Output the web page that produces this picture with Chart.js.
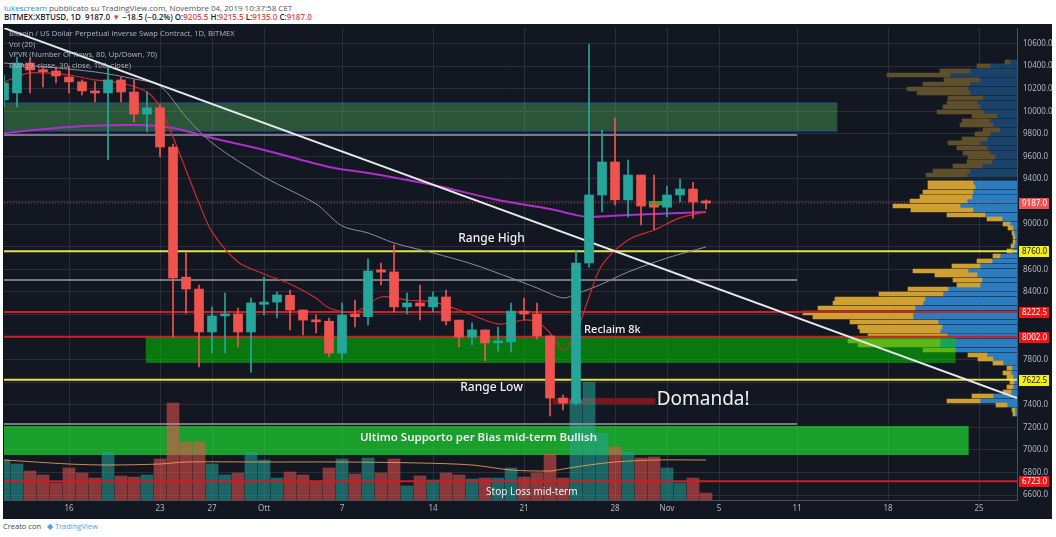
<!DOCTYPE html>
<html>
<head>
<meta charset="utf-8">
<title>BITMEX:XBTUSD 1D</title>
<script src="https://cdn.jsdelivr.net/npm/chart.js@4.4.1/dist/chart.umd.min.js"></script>
<style>
  html, body { margin: 0; padding: 0; background: #fff; }
  body { width: 1056px; height: 537px; position: relative; overflow: hidden; font-family: "Open Sans", "Noto Sans", sans-serif; }
  .hdr { position: absolute; left: 4px; font-size: 8px; color: #555; white-space: nowrap; }
  #h1 { top: 2px; }
  #h2 { top: 11px; font-weight: 600; color: #1e222d; }
  .user { color: #2a8ae0; font-weight: 400; }
  .dn { color: #e0484c; }
  #frame { position: absolute; left: 3px; top: 24px; width: 1049px; height: 495px; background: #131722; }
  #wrap { position: absolute; left: 0; top: 0; width: 1049px; height: 495px; }
  #legend { position: absolute; left: 6px; top: 4px; font-size: 7.6px; line-height: 10.7px; color: #b2b5be; white-space: nowrap; }
  #foot { position: absolute; left: 3px; top: 521px; font-size: 7.5px; color: #444; }
  #foot .tv { color: #4aa3df; margin-left: 4px; }
</style>
</head>
<body>
<div class="hdr" id="h1"><span class="user">lukescream</span> pubblicato su TradingView.com, Novembre 04, 2019 10:37:58 CET</div>
<div class="hdr" id="h2">BITMEX:XBTUSD, 1D&nbsp; 9187.0 <span class="dn">▼</span> −18.5 (−0.2%) O:<span class="dn">9205.5</span> H:<span class="dn">9215.5</span> L:<span class="dn">9135.0</span> C:<span class="dn">9187.0</span></div>
<div id="frame">
  <div id="wrap"><canvas id="chart"></canvas></div>
  <div id="legend">
    Bitcoin / US Dollar Perpetual Inverse Swap Contract, 1D, BITMEX<br>
    Vol (20)<br>
    VPVR (Number Of Rows, 80, Up/Down, 70)<br>
    EMA (9, close, 30, close, 100, close)
  </div>
</div>
<div id="foot">Creato con <span class="tv">◆ TradingView</span></div>

<script>
// daily candles, day 0 = 11 Sep 2019
var candleOpen = [10100,10162,10427,10365,10356,10303,10260,10180,10162,10277,10170,9975,10030,9683,8530,8425,8045,8187,8205,8045,8290,8310,8370,8240,8150,8140,7858,8205,8180,8595,8577,8267,8302,8267,8355,8150,8000,8063,7948,7957,8230,8205,8010,7460,7415,8656,9258,9550,9215,9435,9170,9150,9258,9311,9205.5];
var candleHigh = [10321,10480,10470,10385,10392,10400,10277,10260,10390,10300,10277,10171,10056,9710,8745,8460,8267,8390,8257,8346,8532,8400,8417,8240,8196,8169,8302,8328,8691,8656,8815,8390,8461,8400,8417,8151,8125,8063,8089,8302,8346,8302,8010,7487,8771,10590,9834,9940,9568,9435,9435,9338,9400,9370,9215.5];
var candleLow = [10038,10038,10162,10215,10250,10162,10145,10082,9570,10082,9905,9816,9595,8000,8210,7735,7860,7860,7911,7690,8196,8169,8063,8019,8036,7823,7806,8089,8107,8461,8222,8205,8152,8222,8107,7912,7930,7788,7876,7868,8151,7983,7301,7355,7398,8620,9108,9170,9063,8993,8948,9063,9196,9050,9135];
var candleClose = [10250,10427,10365,10350,10312,10260,10180,10162,10277,10170,9975,10030,9683,8523,8425,8045,8187,8205,8045,8302,8310,8373,8240,8150,8135,7858,8195,8180,8585,8575,8267,8302,8275,8355,8143,8000,8063,7948,7957,8230,8205,8010,7460,7415,8656,9258,9550,9215,9435,9160,9150,9258,9311,9196,9187];
var volumes = [40,36,29,25,17,32,27,22,48,24,23,25,41,97,58,58,36,25,27,48,40,22,28,25,19,32,41,26,42,27,41,14,24,20,27,25,21,22,22,32,23,27,46,22,100,118,67,53,48,42,43,32,17,22,7];

var volMaDays = [0,5,8,12,14,20,26,32,36,39,42,43,45,47,50,54];
var volMaValues = [40,36,35,36,38,38,38,37,35,30,29,31,35,38,40,40];

var ema9Days = [0,2,5,7,9,11,12,13,14,15,16,18,20,22,24,25,27,29,31,33,35,38,40,41,42,43,44,45,46,48,50,52,54];
var ema9Values = [10259,10339,10321,10277,10250,10171,10038,9772,9480,9187,8931,8665,8559,8470,8346,8257,8222,8355,8328,8311,8240,8116,8151,8133,8036,7885,8036,8355,8638,8860,8948,9055,9108];
var ema30Days = [0,7,10,12,14,16,20,24,26,28,30,33,36,39,41,43,44,46,48,51,54];
var ema30Values = [10427,10348,10286,10224,9949,9719,9418,9179,8984,8922,8833,8745,8647,8523,8435,8346,8381,8470,8576,8700,8798];
var ema100Days = [0,5,10,13,16,20,25,28,33,38,42,44,45,48,54];
var ema100Values = [9807,9861,9878,9852,9763,9657,9506,9453,9347,9214,9134,9081,9063,9081,9108];

var trendDays = [0, 77.92];
var trendPrices = [10737, 7460];

// visible range volume profile (rows)
var vpPrices = [10436,10401,10357,10321,10277,10241,10197,10162,10117,10073,10038,9993,9958,9914,9878,9834,9799,9754,9719,9675,9630,9595,9551,9515,9471,9435,
  9365,9329,9285,9241,9205,9161,9125,9081,9046,9001,8966,8922,8886,8842,8807,8762,8718,8674,8629,8585,8550,8505,8461,8426,8381,8337,8302,8257,8213,8178,8133,8089,8054,8010,7965,7930,7885,7841,7806,7770,7726,7682,7646,7602,7558,7513,7478,7434,7398,7354,7319];
var vpUp = [7,27,47,67,37,47,49,47,34,40,37,34,20,27,24,17,27,30,37,30,27,22,25,35,47,50,
  44,42,44,45,50,57,44,32,15,7,4,3,2,2,3,5,17,25,37,49,40,35,37,69,74,92,94,102,104,104,79,75,77,70,77,77,62,30,24,14,5,6,4,3,4,6,24,37,10,2,2];
var vpDown = [5,13,30,63,36,47,61,53,35,30,37,46,25,28,33,17,15,25,32,30,27,27,25,29,37,41,
  45,47,50,52,57,67,62,38,15,7,5,2,2,2,3,5,7,15,28,55,42,29,23,40,64,90,90,97,110,100,88,84,80,79,92,82,32,19,15,10,5,8,6,4,6,8,21,33,11,3,2];
var vpValueAreaHigh = 9390;

var xTickDays = [5,12,16,20,26,33,40,47,51,55,61,68,75];
var xTickLabels = ['16','23','27','Ott','7','14','21','28','Nov','5','11','18','25'];
var priceTicks = [6600,6800,7000,7200,7400,7600,7800,8000,8200,8400,8600,8800,9000,9200,9400,9600,9800,10000,10200,10400,10600];
var priceHiddenTicks = [9200,8800,8200,8000,7600];

// drawn zones: price low/high, day from/to
var zoneLow = [9825, 7770, 6955, 9165, 7407];
var zoneHigh = [10073, 8002, 7212, 9205, 7460];
var zoneFromDay = [0, 10.9, 0, 49.6, 42.2];
var zoneToDay = [64.1, 73.2, 74.2, 50.9, 50.1];
var zoneKinds = ['resist', 'support', 'last', 'box', 'demand'];

// horizontal levels
var levelPrices = [8760, 7622.5, 8222.5, 8002, 6723, 9790, 8505, 7230];
var levelKinds = ['range', 'range', 'red', 'red', 'red', 'grey', 'grey', 'grey'];
var levelToDay = [null, null, null, null, null, 61, 61, 61];

var tagPrices = [9187, 8760, 8222.5, 8002, 7622.5, 6723];
var tagKinds = ['lastPrice', 'range', 'red', 'red', 'range', 'red'];

var noteTexts = ['Range High', 'Reclaim 8k', 'Range Low', 'Domanda!', 'Ultimo Supporto per Bias mid-term Bullish', 'Stop Loss mid-term'];
var noteDays = [37.5, 46.8, 37.5, 50.2, 36.5, 40.6];
var notePrices = [8869, 8063, 7549, 7443, 7106, 6628];

// styles
var UP = '#26a69a', DOWN = '#ef5350';
var FONT = '"Noto Sans", "Open Sans", sans-serif';
var zoneFill = {
  resist: 'rgba(80,180,90,0.40)',
  support: 'rgba(0,200,0,0.55)',
  last: 'rgba(30,230,50,0.65)',
  box: 'rgba(40,190,40,0.85)',
  demand: '#7a161c'
};
var levelStyle = {
  range: { color: '#e4e14a', width: 2 },
  red: { color: '#cc1f26', width: 2 },
  grey: { color: '#9a9da6', width: 1.5 }
};
var tagStyle = {
  lastPrice: { bg: '#ef5350', fg: '#fff' },
  range: { bg: '#f2ee1a', fg: '#222' },
  red: { bg: '#f21414', fg: '#fff' }
};
var noteStyle = [
  { size: 12, weight: 500, align: 'center' },
  { size: 11, weight: 500, align: 'center' },
  { size: 12, weight: 500, align: 'center' },
  { size: 19, weight: 400, align: 'left' },
  { size: 11.5, weight: 600, align: 'center' },
  { size: 10, weight: 400, align: 'center' }
];

var isUp = function (i) { return candleClose[i] >= candleOpen[i]; };
var days = candleOpen.map(function (_, i) { return i; });

function clipArea(chart) {
  var a = chart.chartArea, ctx = chart.ctx;
  ctx.save();
  ctx.beginPath();
  ctx.rect(a.left, a.top, a.right - a.left, a.bottom - a.top);
  ctx.clip();
}

function noPadding(s) {
  s.paddingTop = 0; s.paddingBottom = 0; s.paddingLeft = 0; s.paddingRight = 0;
}

var overlays = {
  id: 'overlays',
  beforeDatasetDraw: function (chart, args) {
    var ctx = chart.ctx, x = chart.scales.x, y = chart.scales.y, a = chart.chartArea;
    var label = chart.data.datasets[args.index].label;
    if (label === 'Vol') {
      clipArea(chart);
      zoneLow.forEach(function (lo, k) {
        var x0 = x.getPixelForValue(zoneFromDay[k]), x1 = x.getPixelForValue(zoneToDay[k]);
        var y0 = y.getPixelForValue(zoneHigh[k]), y1 = y.getPixelForValue(lo);
        ctx.fillStyle = zoneFill[zoneKinds[k]];
        ctx.fillRect(x0, y0, x1 - x0, y1 - y0);
        if (zoneKinds[k] === 'resist') {
          ctx.strokeStyle = '#2d4f90';
          ctx.lineWidth = 1;
          ctx.beginPath();
          ctx.moveTo(x0, y0); ctx.lineTo(x1, y0);
          ctx.moveTo(x0, y1); ctx.lineTo(x1, y1);
          ctx.stroke();
        }
      });
      ctx.restore();
    }
    if (label === 'Vol MA') {
      clipArea(chart);
      levelPrices.forEach(function (p, k) {
        var st = levelStyle[levelKinds[k]];
        var yy = y.getPixelForValue(p);
        var xe = levelToDay[k] === null ? a.right : x.getPixelForValue(levelToDay[k]);
        ctx.strokeStyle = st.color;
        ctx.lineWidth = st.width;
        ctx.beginPath();
        ctx.moveTo(a.left, yy); ctx.lineTo(xe, yy);
        ctx.stroke();
      });
      var yl = y.getPixelForValue(candleClose[candleClose.length - 1]);
      ctx.strokeStyle = 'rgba(239,83,80,0.75)';
      ctx.lineWidth = 1;
      ctx.setLineDash([1, 2]);
      ctx.beginPath();
      ctx.moveTo(a.left, yl); ctx.lineTo(a.right, yl);
      ctx.stroke();
      ctx.setLineDash([]);
      ctx.restore();
    }
  },
  afterDatasetsDraw: function (chart) {
    var ctx = chart.ctx, x = chart.scales.x, y = chart.scales.y;
    clipArea(chart);
    ctx.fillStyle = '#f0f0f0';
    ctx.textBaseline = 'middle';
    noteTexts.forEach(function (t, k) {
      var st = noteStyle[k];
      ctx.font = st.weight + ' ' + st.size + 'px ' + FONT;
      ctx.textAlign = st.align;
      ctx.fillText(t, x.getPixelForValue(noteDays[k]), y.getPixelForValue(notePrices[k]));
    });
    ctx.restore();
  },
  afterDraw: function (chart) {
    var ctx = chart.ctx, y = chart.scales.y, a = chart.chartArea;
    ctx.save();
    ctx.font = '8px ' + FONT;
    ctx.textBaseline = 'middle';
    ctx.textAlign = 'left';
    tagPrices.forEach(function (p, k) {
      var st = tagStyle[tagKinds[k]];
      var yy = Math.round(y.getPixelForValue(p));
      ctx.fillStyle = st.bg;
      ctx.fillRect(a.right + 2, yy - 5, 30, 11);
      ctx.fillStyle = st.fg;
      ctx.fillText(p.toFixed(1), a.right + 5, yy + 0.5);
    });
    ctx.restore();
  }
};

new Chart(document.getElementById('chart'), {
  type: 'bar',
  data: {
    datasets: [
      {
        label: 'VPVR up', type: 'bar', indexAxis: 'y', xAxisID: 'xvp', yAxisID: 'y',
        data: vpPrices.map(function (p, i) { return { y: p, x: [0, vpUp[i]] }; }),
        backgroundColor: vpPrices.map(function (p) { return p > vpValueAreaHigh ? '#1b426b' : '#2b7dc0'; }),
        barThickness: 4, grouped: false, order: 11
      },
      {
        label: 'VPVR down', type: 'bar', indexAxis: 'y', xAxisID: 'xvp', yAxisID: 'y',
        data: vpPrices.map(function (p, i) { return { y: p, x: [vpUp[i], vpUp[i] + vpDown[i]] }; }),
        backgroundColor: vpPrices.map(function (p) { return p > vpValueAreaHigh ? '#5f4f2b' : '#cf9f30'; }),
        barThickness: 4, grouped: false, order: 10
      },
      {
        label: 'Vol', type: 'bar', xAxisID: 'x', yAxisID: 'yv',
        data: volumes.map(function (v, i) { return { x: i, y: v }; }),
        backgroundColor: days.map(function (i) { return isUp(i) ? 'rgba(38,166,154,0.55)' : 'rgba(239,83,80,0.55)'; }),
        barThickness: 12, grouped: false, order: 9
      },
      {
        label: 'Vol MA', type: 'line', xAxisID: 'x', yAxisID: 'yv',
        data: volMaDays.map(function (d, k) { return { x: d, y: volMaValues[k] }; }),
        borderColor: 'rgba(255,170,80,0.8)', borderWidth: 1, pointRadius: 0, tension: 0.3, order: 8
      },
      {
        label: 'EMA 100', type: 'line', xAxisID: 'x', yAxisID: 'y',
        data: ema100Days.map(function (d, k) { return { x: d, y: ema100Values[k] }; }),
        borderColor: '#b02fcc', borderWidth: 2, pointRadius: 0, tension: 0.3, order: 7
      },
      {
        label: 'EMA 30', type: 'line', xAxisID: 'x', yAxisID: 'y',
        data: ema30Days.map(function (d, k) { return { x: d, y: ema30Values[k] }; }),
        borderColor: '#8c8f98', borderWidth: 1, pointRadius: 0, tension: 0.3, order: 6
      },
      {
        label: 'EMA 9', type: 'line', xAxisID: 'x', yAxisID: 'y',
        data: ema9Days.map(function (d, k) { return { x: d, y: ema9Values[k] }; }),
        borderColor: '#d42a2a', borderWidth: 1.2, pointRadius: 0, tension: 0.3, order: 5
      },
      {
        label: 'Trendline', type: 'line', xAxisID: 'x', yAxisID: 'y',
        data: trendDays.map(function (d, k) { return { x: d, y: trendPrices[k] }; }),
        borderColor: '#e8e8ea', borderWidth: 2, pointRadius: 0, order: 4
      },
      {
        label: 'Wicks', type: 'bar', xAxisID: 'x', yAxisID: 'y',
        data: days.map(function (i) { return { x: i, y: [candleLow[i], candleHigh[i]] }; }),
        backgroundColor: days.map(function (i) { return isUp(i) ? UP : DOWN; }),
        barThickness: 1, grouped: false, order: 3
      },
      {
        label: 'Candles', type: 'bar', xAxisID: 'x', yAxisID: 'y',
        data: days.map(function (i) { return { x: i, y: [candleOpen[i], candleClose[i]] }; }),
        backgroundColor: days.map(function (i) { return isUp(i) ? UP : DOWN; }),
        barThickness: 9, minBarLength: 2, grouped: false, order: 2
      }
    ]
  },
  options: {
    responsive: true,
    maintainAspectRatio: false,
    animation: false,
    events: [],
    layout: { padding: { left: 1, top: 4, right: 0, bottom: 0 } },
    plugins: { legend: { display: false }, tooltip: { enabled: false } },
    scales: {
      x: {
        type: 'linear', position: 'bottom', min: 0, max: 77.92, offset: false,
        grid: { color: '#2b2f3b', offset: false, drawTicks: false },
        border: { color: '#4c505b' },
        ticks: {
          color: '#b2b5be', font: { size: 8, family: FONT }, padding: 4, maxRotation: 0, autoSkip: false,
          callback: function (v) { var k = xTickDays.indexOf(v); return k < 0 ? '' : xTickLabels[k]; }
        },
        afterBuildTicks: function (s) { s.ticks = xTickDays.map(function (v) { return { value: v }; }); },
        afterFit: function (s) { s.height = 19; noPadding(s); }
      },
      y: {
        type: 'linear', position: 'right', min: 6557, max: 10737, offset: false,
        grid: { color: '#2b2f3b', drawTicks: false, offset: false },
        border: { color: '#4c505b' },
        ticks: {
          color: '#b2b5be', font: { size: 8, family: FONT }, padding: 6,
          callback: function (v) { return priceHiddenTicks.indexOf(v) >= 0 ? '' : v.toFixed(1); }
        },
        afterBuildTicks: function (s) { s.ticks = priceTicks.map(function (v) { return { value: v }; }); },
        afterFit: function (s) { s.width = 35; noPadding(s); }
      },
      yv: { type: 'linear', display: false, min: 0, max: 472, offset: false, grid: { offset: false } },
      xvp: { type: 'linear', axis: 'x', position: 'bottom', display: false, reverse: true, min: 0, max: 1013, offset: false, grid: { offset: false } }
    }
  },
  plugins: [overlays]
});
</script>
</body>
</html>
